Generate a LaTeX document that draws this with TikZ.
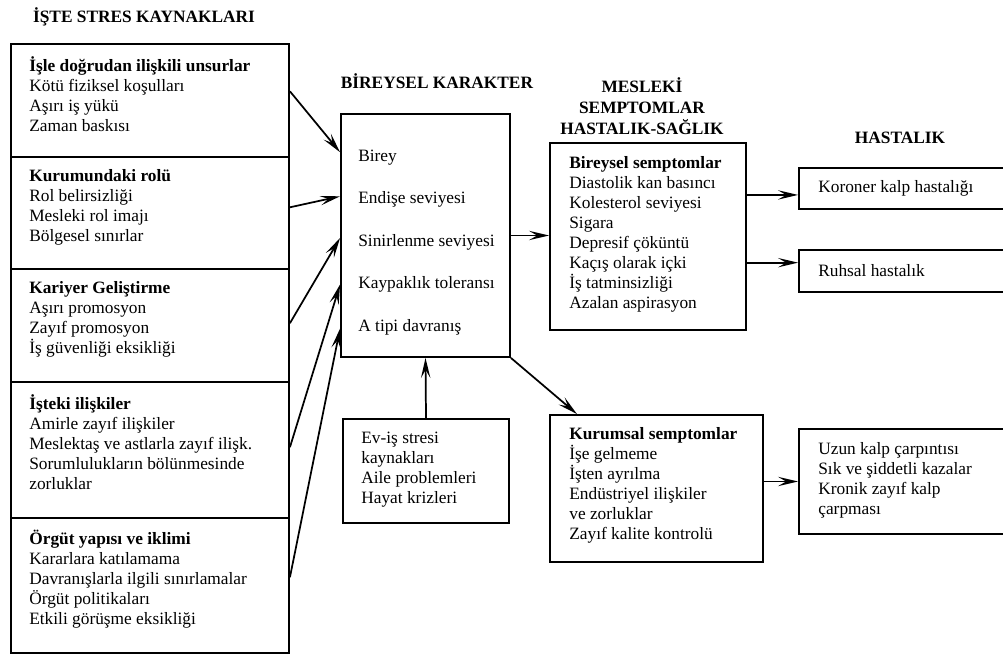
\documentclass[tikz,border=0pt]{standalone}
\usepackage{fontspec}
\setmainfont{Liberation Serif}
\usetikzlibrary{arrows.meta,calc,fit}
\tikzset{>={Stealth[length=15pt,width=7pt,inset=6pt]}}

\begin{document}
\begin{tikzpicture}[x=0.75pt, y=-0.75pt,
    every node/.style={font=\fontsize{13}{15}\selectfont},
    box/.style={draw, line width=1.4pt, inner sep=0pt},
    txt/.style={align=left, inner sep=0pt, anchor=north west, execute at begin node=\strut},
    title/.style={font=\fontsize{13}{16}\selectfont\bfseries, align=center, inner sep=0pt},
    link/.style={->, line width=1.3pt}
  ]
  \clip (0,0) rectangle (1003,655);

  % stres kaynaklari
  \node[title, anchor=base] (tis) at (144,23) {İŞTE STRES KAYNAKLARI};
  \node[box, fit={(11,44) (289,157)}]  (l1) {};
  \node[box, fit={(11,157) (289,269)}] (l2) {};
  \node[box, fit={(11,269) (289,382)}] (l3) {};
  \node[box, fit={(11,382) (289,518)}] (l4) {};
  \node[box, fit={(11,518) (289,653)}] (l5) {};
  \node[txt] (t1) at ($(l1.north west)+(19,13)$) {\textbf{İşle doğrudan ilişkili unsurlar}\\Kötü fiziksel koşulları\\Aşırı iş yükü\\Zaman baskısı};
  \node[txt] (t2) at ($(l2.north west)+(19,13)$) {\textbf{Kurumundaki rolü}\\Rol belirsizliği\\Mesleki rol imajı\\Bölgesel sınırlar};
  \node[txt] (t3) at ($(l3.north west)+(19,13)$) {\textbf{Kariyer Geliştirme}\\Aşırı promosyon\\Zayıf promosyon\\İş güvenliği eksikliği};
  \node[txt] (t4) at ($(l4.north west)+(19,13)$) {\textbf{İşteki ilişkiler}\\Amirle zayıf ilişkiler\\Meslektaş ve astlarla zayıf ilişk.\\Sorumlulukların bölünmesinde\\zorluklar};
  \node[txt] (t5) at ($(l5.north west)+(19,13)$) {\textbf{Örgüt yapısı ve iklimi}\\Kararlara katılamama\\Davranışlarla ilgili sınırlamalar\\Örgüt politikaları\\Etkili görüşme eksikliği};

  % bireysel karakter
  \node[title, anchor=base] (tkar) at (437,89) {BİREYSEL KARAKTER};
  \node[box, fit={(341,114) (510,357)}] (kar) {};
  \foreach \t [count=\i] in {Birey, Endişe seviyesi, Sinirlenme seviyesi, Kaypaklık toleransı, A tipi davranış}
    \node[anchor=base west, inner sep=0pt] (k\i) at ($(kar.north west)+(18,5.5+42.5*\i)$) {\t};

  \node[box, fit={(343,419) (509,523)}] (ev) {};
  \node[txt] (tev) at ($(ev.north west)+(19,14)$) {Ev-iş stresi\\kaynakları\\Aile problemleri\\Hayat krizleri};

  % semptomlar
  \node[title, anchor=north, execute at begin node=\strut] (tmes) at (642,77) {MESLEKİ\\SEMPTOMLAR\\HASTALIK-SAĞLIK};
  \node[box, fit={(550,143) (746,330)}] (bir) {};
  \node[txt] (tbir) at ($(bir.north west)+(20,14)$) {\textbf{Bireysel semptomlar}\\Diastolik kan basıncı\\Kolesterol seviyesi\\Sigara\\Depresif çöküntü\\Kaçış olarak içki\\İş tatminsizliği\\Azalan aspirasyon};
  \node[box, fit={(550,415) (763,562)}] (kur) {};
  \node[txt] (tkur) at ($(kur.north west)+(20,13)$) {\textbf{Kurumsal semptomlar}\\İşe gelmeme\\İşten ayrılma\\Endüstriyel ilişkiler\\ve zorluklar\\Zayıf kalite kontrolü};

  % hastalik
  \node[title, anchor=base] (thas) at (900,144) {HASTALIK};
  \node[box, fit={(799,168) (1006,209)}] (kor) {};
  \node[anchor=west, inner sep=0pt] (tkor) at ($(kor.west)+(20,0)$) {Koroner kalp hastalığı};
  \node[box, fit={(799,250) (1006,292)}] (ruh) {};
  \node[anchor=west, inner sep=0pt] (truh) at ($(ruh.west)+(20,0)$) {Ruhsal hastalık};
  \node[box, fit={(799,429) (1006,534)}] (kro) {};
  \node[txt] (tkro) at ($(kro.north west)+(20,14)$) {Uzun kalp çarpıntısı\\Sık ve şiddetli kazalar\\Kronik zayıf kalp\\çarpması};

  % oklar
  \foreach \s/\a/\b in {l1/0.42/0.16, l2/0.45/0.34, l3/0.48/0.51, l4/0.48/0.70, l5/0.44/0.88}
    \draw[link] ($(\s.north east)!\a!(\s.south east)$) -- ($(kar.north west)!\b!(kar.south west)$);
  \draw[link] (ev.north) -- (kar.south);
  \draw[link] (kar.east) -- (kar.east -| bir.west);
  \draw[link] (kar.south east) -- ($(kur.north west)!0.13!(kur.north east)$);
  \coordinate (pkor) at ($(kor.north west)!0.65!(kor.south west)$);
  \draw[link] (pkor -| bir.east) -- (pkor);
  \coordinate (pruh) at ($(ruh.north west)!0.31!(ruh.south west)$);
  \draw[link] (pruh -| bir.east) -- (pruh);
  \draw[link] (kro.west -| kur.east) -- (kro.west);
\end{tikzpicture}
\end{document}
